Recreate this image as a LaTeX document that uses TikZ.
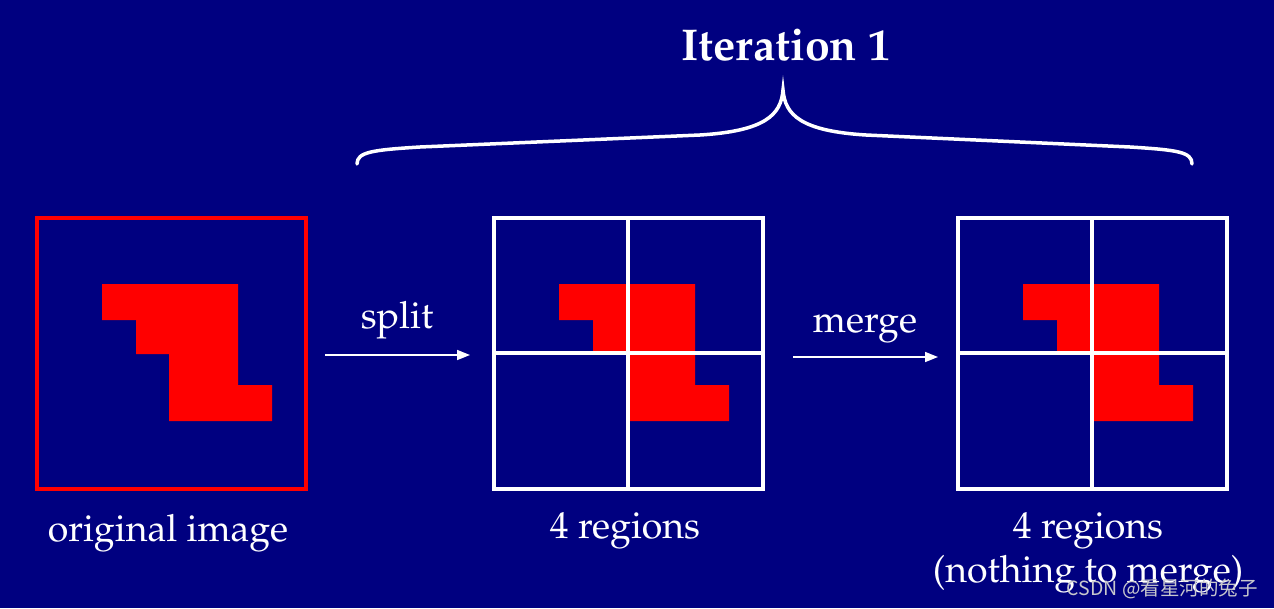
\documentclass[tikz,border=0pt]{standalone}
\usepackage{fontspec}
\newfontfamily\cjk{Noto Sans CJK SC}
\usepackage[T1]{fontenc}
\usepackage{mathpazo}
\usetikzlibrary{arrows.meta}
\definecolor{navybg}{RGB}{0,0,128}
\definecolor{wmgray}{RGB}{200,200,205}
\tikzset{
  imgbox/.style={draw=#1, line width=4pt, minimum width=269pt, minimum height=271pt, inner sep=0pt, outer sep=0pt},
  gridline/.style={draw=white, line width=4pt},
  lbl/.style={text=white, anchor=base, inner sep=0pt, font=\fontsize{37.5}{42}\selectfont},
  arr/.style={draw=white, line width=1.6pt, -{Triangle[length=13pt,width=10pt]}},
  brace/.style={draw=white, line width=3.5pt, line cap=round},
  blob/.pic={\fill[red] (-69,-69) -- (67,-69) -- (67,32) -- (101,32) -- (101,68) -- (-2,68) -- (-2,1) -- (-35,1) -- (-35,-33) -- (-69,-33) -- cycle;}
}
\begin{document}
\begin{tikzpicture}[x=1pt,y=-1pt]
\fill[navybg] (0,0) rectangle (1274,608);
\useasboundingbox (0,0) rectangle (1274,608);
% boxes
\pic at (171,353) {blob};
\node[imgbox=red] (b1) at (171,353) {};
\pic at (628,353) {blob};
\node[imgbox=white] (b2) at (628,353) {};
\draw[gridline] (b2.north) -- (b2.south);
\draw[gridline] (b2.west) -- (b2.east);
\pic at (1092,353) {blob};
\node[imgbox=white] (b3) at (1092,353) {};
\draw[gridline] (b3.north) -- (b3.south);
\draw[gridline] (b3.west) -- (b3.east);
% arrows
\coordinate (a1s) at (325,355);
\coordinate (a1e) at (470,355);
\coordinate (a2s) at (793,357);
\coordinate (a2e) at (938,357);
\draw[arr] (a1s) -- (a1e);
\draw[arr] (a2s) -- (a2e);
\node[lbl] (split) at (397,328) {split};
\node[lbl] (merge) at (865,332) {merge};
% labels
\node[lbl] (l1) at (168,541) {original image};
\node[lbl] (l2) at (625,538) {4 regions};
\node[lbl] (l3) at (1088,538) {4 regions};
\node[lbl] (l4) at (1088,582) {(nothing to merge)};
% brace
\draw[brace] (357,164) .. controls (357,152) and (372,150) .. (420,147)
  -- (700,135) .. controls (765,131) and (781,115) .. (783,90)
  .. controls (785,115) and (801,131) .. (866,135)
  -- (1130,147) .. controls (1178,150) and (1192,152) .. (1192,164);
\node[lbl, font=\bfseries\fontsize{44.5}{48}\selectfont] (iter) at (786,60) {Iteration 1};
% watermark
\node[text=wmgray, anchor=base east, inner sep=0pt, font=\cjk\fontsize{19.5}{22}\selectfont] (wm) at (1258,595) {CSDN @看星河的兔子};
\end{tikzpicture}
\end{document}
